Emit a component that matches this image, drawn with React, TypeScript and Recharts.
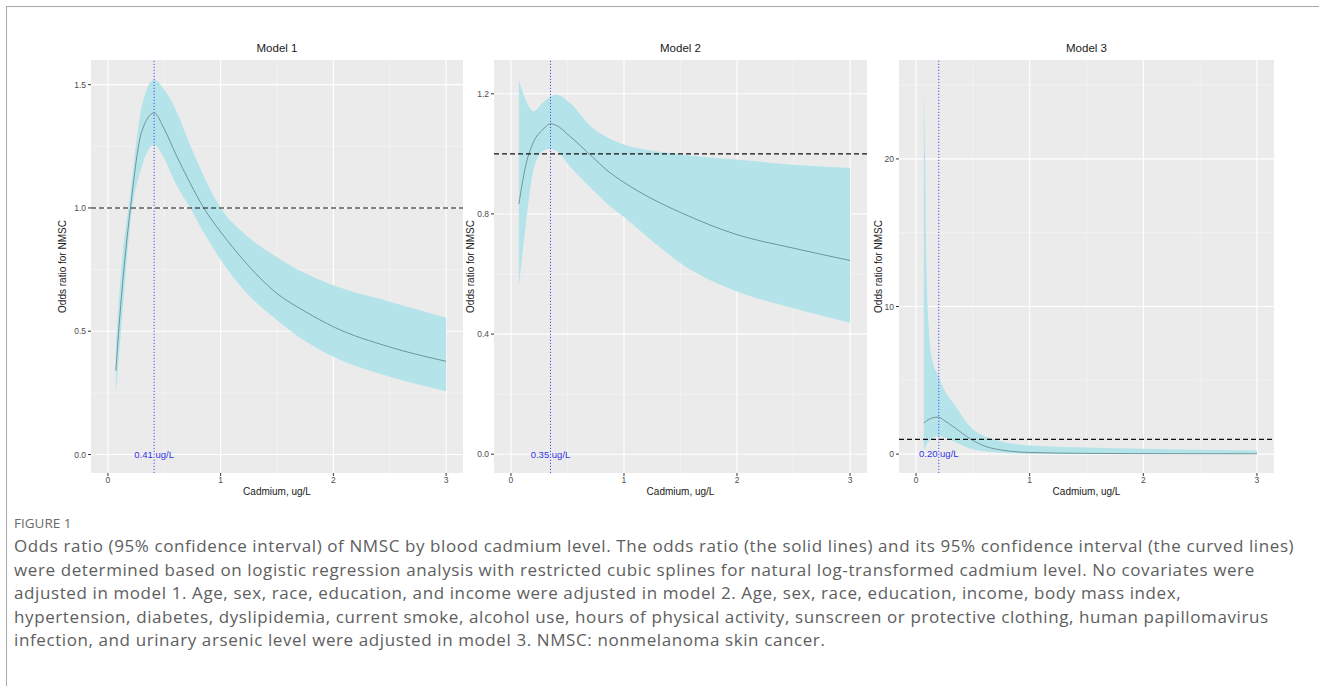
import {
  ComposedChart,
  Area,
  Line,
  XAxis,
  YAxis,
  CartesianGrid,
  ReferenceLine,
  ReferenceDot,
} from "recharts";

// shared x axis (cadmium, ug/L)
const X_TICKS = [0, 1, 2, 3];
const X_MINOR = [0.5, 1.5, 2.5];

// Model 1: crude
const m1Cadmium = [0.07, 0.12, 0.2, 0.3, 0.41, 0.5, 0.6, 0.73, 0.85, 1.0, 1.2, 1.5, 1.75, 2.0, 2.5, 3.0];
const m1Odds = [0.34, 0.64, 1.0, 1.31, 1.385, 1.32, 1.22, 1.1, 1.0, 0.903, 0.79, 0.653, 0.58, 0.518, 0.436, 0.378];
const m1Lower = [0.24, 0.52, 0.94, 1.166, 1.255, 1.2, 1.1, 1.0, 0.9, 0.79, 0.67, 0.545, 0.46, 0.396, 0.315, 0.257];
const m1Upper = [0.44, 0.76, 1.06, 1.41, 1.52, 1.48, 1.4, 1.254, 1.13, 1.0, 0.9, 0.8, 0.735, 0.686, 0.62, 0.555];

// Model 2: age, sex, race, education, income
const m2Cadmium = [0.07, 0.13, 0.2, 0.28, 0.35, 0.4, 0.52, 0.72, 0.85, 1.0, 1.25, 1.5, 2.0, 2.5, 3.0];
const m2Odds = [0.833, 0.96, 1.04, 1.08, 1.1, 1.095, 1.059, 0.99, 0.945, 0.905, 0.85, 0.805, 0.731, 0.686, 0.645];
const m2Lower = [0.558, 0.76, 0.948, 1.009, 1.017, 1.01, 0.959, 0.881, 0.835, 0.79, 0.71, 0.636, 0.542, 0.486, 0.438];
const m2Upper = [1.246, 1.18, 1.142, 1.17, 1.19, 1.198, 1.17, 1.087, 1.055, 1.031, 1.01, 0.998, 0.981, 0.964, 0.953];

// Model 3: fully adjusted
const m3Cadmium = [0.068, 0.08, 0.091, 0.112, 0.141, 0.194, 0.244, 0.333, 0.48, 0.66, 1.0, 1.5, 2.0, 3.0];
const m3Odds = [2.1, 2.18, 2.24, 2.35, 2.45, 2.51, 2.3, 1.83, 1.02, 0.41, 0.11, 0.05, 0.03, 0.02];
const m3Lower = [0.25, 0.45, 0.62, 0.85, 1.05, 1.22, 1.15, 0.85, 0.36, 0.14, 0.03, 0.015, 0.01, 0.005];
const m3Upper = [24.8, 20, 13.1, 8.6, 6.4, 5.34, 4.43, 3.42, 1.83, 1.05, 0.59, 0.45, 0.36, 0.25];

const captionLines = [
  "Odds ratio (95% confidence interval) of NMSC by blood cadmium level. The odds ratio (the solid lines) and its 95% confidence interval (the curved lines)",
  "were determined based on logistic regression analysis with restricted cubic splines for natural log-transformed cadmium level. No covariates were",
  "adjusted in model 1. Age, sex, race, education, and income were adjusted in model 2. Age, sex, race, education, income, body mass index,",
  "hypertension, diabetes, dyslipidemia, current smoke, alcohol use, hours of physical activity, sunscreen or protective clothing, human papillomavirus",
  "infection, and urinary arsenic level were adjusted in model 3. NMSC: nonmelanoma skin cancer.",
];

type PanelSpec = {
  title: string;
  x: number[];
  est: number[];
  lo: number[];
  hi: number[];
  yDomain: [number, number];
  yTicks: number[];
  yMinor: number[];
  digits: number;
  cutoff: number;
  cutoffLabel: string;
  chartLeft: number;
  axisWidth: number;
  width: number;
};

const panels: PanelSpec[] = [
  {
    title: "Model 1",
    x: m1Cadmium, est: m1Odds, lo: m1Lower, hi: m1Upper,
    yDomain: [-0.075, 1.6], yTicks: [0, 0.5, 1, 1.5], yMinor: [0.25, 0.75, 1.25], digits: 1,
    cutoff: 0.41, cutoffLabel: "0.41 ug/L",
    chartLeft: 51, axisWidth: 40, width: 417,
  },
  {
    title: "Model 2",
    x: m2Cadmium, est: m2Odds, lo: m2Lower, hi: m2Upper,
    yDomain: [-0.0625, 1.3125], yTicks: [0, 0.4, 0.8, 1.2], yMinor: [0.2, 0.6, 1.0], digits: 1,
    cutoff: 0.35, cutoffLabel: "0.35 ug/L",
    chartLeft: 459, axisWidth: 35, width: 413,
  },
  {
    title: "Model 3",
    x: m3Cadmium, est: m3Odds, lo: m3Lower, hi: m3Upper,
    yDomain: [-1.28, 26.7], yTicks: [0, 10, 20], yMinor: [5, 15, 25], digits: 0,
    cutoff: 0.2, cutoffLabel: "0.20 ug/L",
    chartLeft: 867, axisWidth: 32, width: 412,
  },
];

const tickStyle = { fontSize: 8.5, fill: "#4d4d4d" };

function ModelPanel({ p }: { p: PanelSpec }) {
  const data = p.x.map((x, i) => ({ x, est: p.est[i], band: [p.lo[i], p.hi[i]] }));
  const plotLeft = p.chartLeft + p.axisWidth;
  const plotRight = p.chartLeft + p.width - 5;
  return (
    <>
      <div
        style={{
          position: "absolute",
          left: plotLeft,
          width: plotRight - plotLeft,
          top: 40,
          lineHeight: "16px",
          fontSize: 11.5,
          textAlign: "center",
          color: "#1a1a1a",
        }}
      >
        {p.title}
      </div>
      <div style={{ position: "absolute", left: p.chartLeft, top: 55 }}>
        <ComposedChart width={p.width} height={458} data={data} margin={{ top: 5, right: 5, bottom: 0, left: 0 }}>
          <CartesianGrid fill="#EBEBEB" stroke="#F6F6F6" strokeWidth={0.6} verticalValues={X_MINOR} horizontalValues={p.yMinor} />
          <CartesianGrid stroke="#FFFFFF" strokeWidth={1.1} verticalValues={X_TICKS} horizontalValues={p.yTicks} />
          <XAxis
            type="number"
            dataKey="x"
            domain={[-0.15, 3.15]}
            ticks={X_TICKS}
            allowDataOverflow
            axisLine={false}
            tickLine={{ stroke: "#333333" }}
            tickSize={3}
            tickMargin={1}
            tick={tickStyle}
            height={40}
            label={{ value: "Cadmium, ug/L", position: "insideBottom", offset: 18, fontSize: 10, fill: "#1a1a1a" }}
          />
          <YAxis
            type="number"
            domain={p.yDomain}
            ticks={p.yTicks}
            allowDataOverflow
            axisLine={false}
            tickLine={{ stroke: "#333333" }}
            tickSize={3}
            tick={tickStyle}
            tickFormatter={(v: number) => v.toFixed(p.digits)}
            width={p.axisWidth}
            label={{
              value: "Odds ratio for NMSC",
              angle: -90,
              position: "insideLeft",
              offset: 11,
              fontSize: 10,
              fill: "#1a1a1a",
              style: { textAnchor: "middle" },
            }}
          />
          <Area
            type="monotone"
            dataKey="band"
            stroke="none"
            fill="#B4E4E9"
            fillOpacity={1}
            isAnimationActive={false}
          />
          <Line
            type="monotone"
            dataKey="est"
            stroke="#5d8086"
            strokeWidth={0.8}
            dot={false}
            isAnimationActive={false}
          />
          <ReferenceLine y={1} stroke="#111111" strokeWidth={1.1} strokeDasharray="5 3" />
          <ReferenceLine x={p.cutoff} stroke="#4d4df0" strokeWidth={1} strokeDasharray="1.2 1.8" />
          <ReferenceDot
            x={p.cutoff}
            y={0}
            r={0}
            fill="none"
            stroke="none"
            label={{ value: p.cutoffLabel, position: "center", fill: "#3333e6", fontSize: 9.5 }}
          />
        </ComposedChart>
      </div>
    </>
  );
}

export default function App() {
  return (
    <div
      style={{
        position: "absolute",
        left: 0,
        top: 0,
        width: 1319,
        height: 686,
        overflow: "hidden",
        background: "#ffffff",
        fontFamily: "'Liberation Sans', Arial, sans-serif",
      }}
    >
      <div
        style={{
          position: "absolute",
          left: 6,
          top: 6,
          width: 1400,
          height: 800,
          borderLeft: "1.5px solid #a9a9a9",
          borderTop: "1.5px solid #a9a9a9",
        }}
      />
      {panels.map((p) => (
        <ModelPanel key={p.title} p={p} />
      ))}
      <div
        style={{
          position: "absolute",
          left: 14,
          top: 513,
          lineHeight: "20px",
          fontSize: 13.5,
          color: "#6b6b6b",
          fontFamily: "'Open Sans', sans-serif",
        }}
      >
        FIGURE 1
      </div>
      <div
        style={{
          position: "absolute",
          left: 14,
          top: 534,
          lineHeight: "23.5px",
          fontSize: 17,
          letterSpacing: 0.6,
          color: "#5e5e5e",
          fontFamily: "'Open Sans', sans-serif",
          whiteSpace: "nowrap",
        }}
      >
        {captionLines.map((l) => (
          <div key={l}>{l}</div>
        ))}
      </div>
    </div>
  );
}
